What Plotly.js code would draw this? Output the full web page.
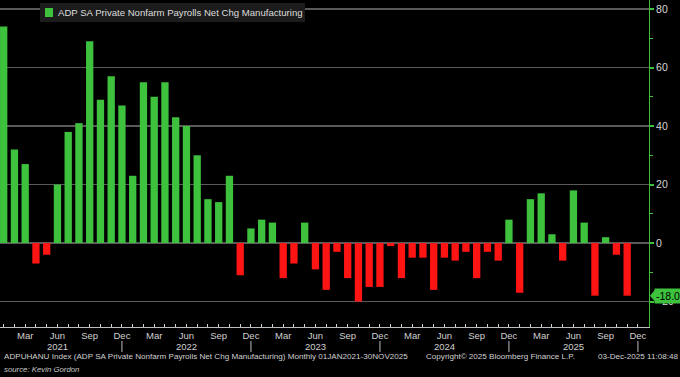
<!DOCTYPE html>
<html>
<head>
<meta charset="utf-8">
<script src="https://cdn.plot.ly/plotly-3.0.1.min.js"></script>
<style>
  html, body { margin: 0; padding: 0; background: #000; }
  #chart { width: 680px; height: 377px; }
</style>
</head>
<body>
<div id="chart"></div>
<script>
// Monthly ADP manufacturing net change, Jan 2021 - Nov 2025 (thousands)
const months = [
  "Jan 2021","Feb 2021","Mar 2021","Apr 2021","May 2021","Jun 2021","Jul 2021","Aug 2021","Sep 2021","Oct 2021","Nov 2021","Dec 2021",
  "Jan 2022","Feb 2022","Mar 2022","Apr 2022","May 2022","Jun 2022","Jul 2022","Aug 2022","Sep 2022","Oct 2022","Nov 2022","Dec 2022",
  "Jan 2023","Feb 2023","Mar 2023","Apr 2023","May 2023","Jun 2023","Jul 2023","Aug 2023","Sep 2023","Oct 2023","Nov 2023","Dec 2023",
  "Jan 2024","Feb 2024","Mar 2024","Apr 2024","May 2024","Jun 2024","Jul 2024","Aug 2024","Sep 2024","Oct 2024","Nov 2024","Dec 2024",
  "Jan 2025","Feb 2025","Mar 2025","Apr 2025","May 2025","Jun 2025","Jul 2025","Aug 2025","Sep 2025","Oct 2025","Nov 2025"
];
const netChange = [
  74, 32, 27, -7, -4, 20, 38, 41, 69, 49, 57, 47,
  23, 55, 50, 55, 43, 40, 30, 15, 14, 23, -11, 5,
  8, 7, -12, -7, 7, -9, -16, -3, -12, -20, -15, -15,
  -1, -12, -5, -5, -16, -5, -6, -3, -12, -3, -6, 8,
  -17, 15, 17, 3, -6, 18, 7, -18, 2, -4, -18
];
const tickIndex = [2,5,8,11,14,17,20,23,26,29,32,35,38,41,44,47,50,53,56,59];
const tickLabels = ["Mar","Jun","Sep","Dec","Mar","Jun","Sep","Dec","Mar","Jun","Sep","Dec",
                    "Mar","Jun","Sep","Dec","Mar","Jun","Sep","Dec"];
const yearIndex = [5,17,29,41,53];
const yearLabels = ["2021","2022","2023","2024","2025"];
const yearBreaks = [11,23,35,47,59];
const yTicks = [-20, 0, 20, 40, 60, 80];
const seriesName = "ADP SA Private Nonfarm Payrolls Net Chg Manufacturing";
const lastValue = netChange[netChange.length - 1];

const GREEN = "#3ec23e";
const RED = "#ff1414";
const FONT = "Liberation Sans, Arial, sans-serif";
const PW = 649, PH = 327; // plot area in pixels
const px = v => v / PW;          // pixel x -> paper x
const py = v => (PH - v) / PH;   // pixel y -> paper y

const xIdx = months.map((m, i) => i);
const trace = {
  type: "bar",
  x: xIdx,
  y: netChange,
  hovertext: months,
  hoverinfo: "text+y",
  textposition: "none",
  width: 0.68,
  name: seriesName,
  marker: { color: netChange.map(v => v >= 0 ? GREEN : RED), line: { width: 0 } },
  showlegend: false
};

const shapes = yearBreaks.map(i => ({
  type: "line", xref: "x", yref: "paper",
  x0: i, x1: i, y0: py(341), y1: py(352),
  line: { color: "#bdbdbd", width: 1 }
}));
// pointer of the last-value tag
shapes.push({
  type: "path", xref: "paper", yref: "y",
  path: `M 1.0015 ${lastValue} L ${1 + 6/PW} ${lastValue + 2} L ${1 + 6/PW} ${lastValue - 2} Z`,
  fillcolor: GREEN, line: { width: 0 }
});
// legend box and swatch
shapes.push({
  type: "rect", xref: "paper", yref: "paper",
  x0: px(40), x1: px(305), y0: py(22), y1: py(3),
  fillcolor: "#1c1c1c", line: { width: 0 }, layer: "above"
});
shapes.push({
  type: "rect", xref: "paper", yref: "paper",
  x0: px(45), x1: px(53), y0: py(17), y1: py(8),
  fillcolor: GREEN, line: { width: 0 }, layer: "above"
});

const annotations = [
  { xref: "paper", yref: "paper", x: px(56), y: py(12.5), xanchor: "left", yanchor: "middle",
    text: seriesName, showarrow: false,
    font: { family: FONT, size: 9.6, color: "#dcdcdc" } },
  { xref: "paper", yref: "y", x: 1, y: lastValue, xanchor: "left", yanchor: "middle", xshift: 5,
    text: lastValue.toFixed(1), showarrow: false, bgcolor: GREEN, borderpad: 1,
    font: { family: FONT, size: 10.5, color: "#000" } },
  { xref: "paper", yref: "paper", x: 0, y: py(357), xanchor: "left", yanchor: "middle", xshift: 2,
    text: "ADPUHANU Index (ADP SA Private Nonfarm Payrolls Net Chg Manufacturing) Monthly 01JAN2021-30NOV2025",
    showarrow: false, font: { family: FONT, size: 8.1, color: "#d0d0d0" } },
  { xref: "paper", yref: "paper", x: 0, y: py(369), xanchor: "left", yanchor: "middle", xshift: 2,
    text: "<i>source: Kevin Gordon</i>",
    showarrow: false, font: { family: FONT, size: 7.8, color: "#c8c8c8" } },
  { xref: "paper", yref: "paper", x: px(424), y: py(357), xanchor: "left", yanchor: "middle",
    text: "Copyright© 2025 Bloomberg Finance L.P.",
    showarrow: false, font: { family: FONT, size: 8.1, color: "#d0d0d0" } },
  { xref: "paper", yref: "paper", x: px(680), y: py(357), xanchor: "right", yanchor: "middle",
    text: "03-Dec-2025 11:08:48",
    showarrow: false, font: { family: FONT, size: 8.1, color: "#d0d0d0" } }
];
yearIndex.forEach((i, k) => annotations.push({
  xref: "x", yref: "paper", x: i, y: py(346.5), xanchor: "center", yanchor: "middle",
  text: yearLabels[k], showarrow: false, font: { family: FONT, size: 9.5, color: "#d0d0d0" }
}));

const layout = {
  width: 680, height: 377,
  margin: { l: 0, r: 31, t: 0, b: 50, pad: 0 },
  paper_bgcolor: "#000", plot_bgcolor: "#000",
  showlegend: false,
  xaxis: {
    range: [-0.344, 60.03],
    tickmode: "array", tickvals: tickIndex, ticktext: tickLabels,
    tickfont: { family: FONT, size: 9.5, color: "#d0d0d0" },
    ticks: "inside", ticklen: 3, tickcolor: "#d0d0d0", tickwidth: 1,
    ticklabelstandoff: 0,
    minor: { tickmode: "linear", tick0: 0, dtick: 1, ticks: "inside", ticklen: 3, tickcolor: "#d0d0d0", tickwidth: 1, showgrid: false },
    showline: true, linecolor: "#bdbdbd", linewidth: 1, mirror: false,
    showgrid: false, zeroline: false, fixedrange: true
  },
  yaxis: {
    side: "right",
    range: [-28.7, 83.1],
    tickmode: "array", tickvals: yTicks,
    tickfont: { family: FONT, size: 10.5, color: "#d8d8d8" },
    ticks: "outside", ticklen: 4, tickwidth: 2, tickcolor: GREEN,
    minor: { tickmode: "array", tickvals: [-10, 10, 30, 50, 70], ticks: "outside", ticklen: 3, tickwidth: 1, tickcolor: GREEN, showgrid: false },
    showline: true, linecolor: GREEN, linewidth: 1,
    showgrid: true, gridcolor: "#5a5a5a", gridwidth: 1.5,
    zeroline: true, zerolinecolor: "#5a5a5a", zerolinewidth: 1.5,
    fixedrange: true
  },
  shapes: shapes,
  annotations: annotations
};

Plotly.newPlot("chart", [trace], layout, { displayModeBar: false, staticPlot: true });
</script>
</body>
</html>
